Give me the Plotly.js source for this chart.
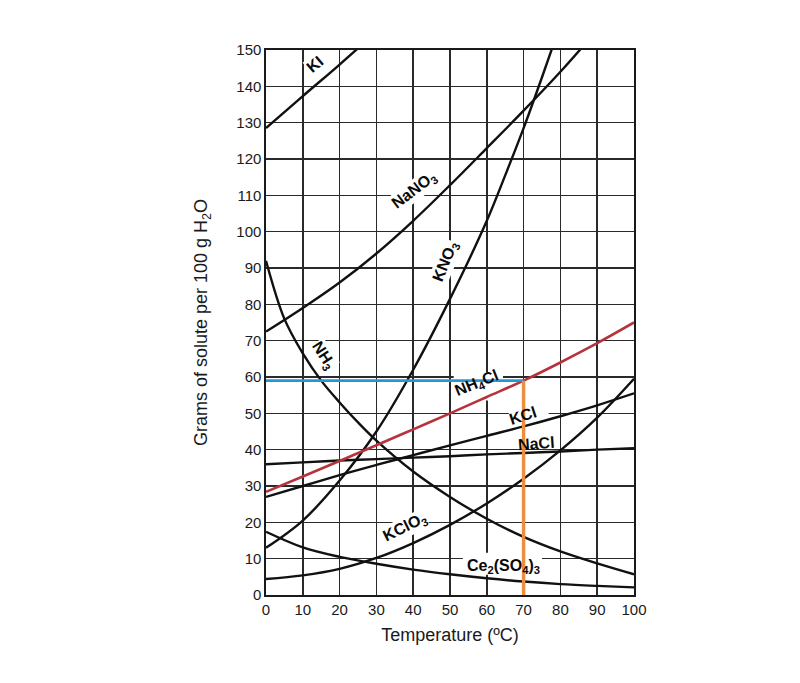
<!DOCTYPE html>
<html>
<head>
<meta charset="utf-8">
<script src="https://cdn.plot.ly/plotly-3.0.1.min.js"></script>
<style>html,body{margin:0;padding:0;background:#fff;}#chart{width:800px;height:683px;}</style>
</head>
<body>
<div id="chart"></div>
<script>
// Temperature (°C) grid shared by most curves
const temps = [0, 10, 20, 30, 40, 50, 60, 70, 80, 90, 100];

// Solubility (g solute per 100 g H2O)
const kiT = [0, 10, 20, 30];
const kiS = [128.5, 137.3, 146, 155];

const nano3T = [0, 10, 20, 30, 40, 50, 60, 70, 80, 90];
const nano3S = [72.5, 79, 86, 94, 103, 112.8, 123, 133.3, 144, 155.5];

const kno3T = [0, 10, 20, 30, 40, 50, 60, 65, 70, 75, 80];
const kno3S = [13, 20.5, 31.5, 45, 62, 81.5, 103, 115.5, 128.5, 142.5, 157];

const nh3T = [0, 5, 10, 15, 20, 25, 30, 40, 50, 60, 70, 80, 90, 100];
const nh3S = [92, 76, 66.5, 59, 53, 47.5, 42.5, 34, 27, 21, 16, 12, 8.7, 5.7];

const nh4clS = [28.4, 32.6, 36.9, 41.2, 45.6, 50, 54.5, 59, 64, 69.3, 75];
const kclS   = [27, 30, 33, 35.8, 38.5, 41.2, 43.8, 46.4, 49.2, 52.2, 55.5];
const naclS  = [36, 36.5, 37, 37.4, 37.8, 38.2, 38.7, 39.1, 39.5, 40, 40.4];
const kclo3S = [4.4, 5.4, 7.2, 10.2, 14.3, 19.3, 25.2, 32, 39.8, 48.8, 59.5];
const ce2S   = [17.4, 13.1, 10.5, 8.6, 7.0, 5.7, 4.6, 3.7, 3.0, 2.5, 2.1];

// Read-off guide: NH4Cl at 70 °C
const guideT = 70;
const guideS = 59;

// Tick labels
const xTicks = [0, 10, 20, 30, 40, 50, 60, 70, 80, 90, 100];
const yTicks = [0, 10, 20, 30, 40, 50, 60, 70, 80, 90, 100, 110, 120, 130, 140, 150];

// Curve labels
const labelText = ['KI', 'NaNO<sub>3</sub>', 'KNO<sub>3</sub>', 'NH<sub>3</sub>', 'NH<sub>4</sub>Cl', 'KCl', 'NaCl', 'KClO<sub>3</sub>', 'Ce<sub>2</sub>(SO<sub>4</sub>)<sub>3</sub>'];

// ---- layout config (positions / styles) ----
const labelPos = [
  [13.2, 146, -40, true],
  [40.3, 111.3, -37, true],
  [48.9, 91.7, -68, true],
  [15.6, 66, 57, true],
  [57.3, 58.3, -22, false],
  [69.9, 49.5, -18, false],
  [73.4, 41.8, -4, false],
  [37.8, 18.6, -26, true],
  [64.5, 7.8, 0, false]
];
// white backing boxes drawn between gridlines and traces [x0,x1,y0,y1]
const backBoxes = [
  [51, 64.4, 53.5, 61.2],
  [66, 76.8, 47.4, 52.8],
  [68, 79.6, 40.3, 44.2],
  [53.5, 75, 5.6, 11.6]
];

const black = {color: '#111', width: 2.4};
function curve(x, y, line) {
  return {x: x, y: y, type: 'scatter', mode: 'lines', line: Object.assign({shape: 'spline', smoothing: 1}, line), hoverinfo: 'skip', showlegend: false};
}

const traces = [
  curve(kiT, kiS, black),
  curve(nano3T, nano3S, black),
  curve(kno3T, kno3S, black),
  curve(nh3T, nh3S, black),
  curve(temps, kclS, black),
  curve(temps, naclS, black),
  curve(temps, kclo3S, black),
  curve(temps, ce2S, black),
  curve(temps, nh4clS, {color: '#b5343c', width: 2.6}),
  {x: [0, guideT], y: [guideS, guideS], type: 'scatter', mode: 'lines', line: {color: '#2597d4', width: 2.8}, hoverinfo: 'skip', showlegend: false},
  {x: [guideT, guideT], y: [0, guideS], type: 'scatter', mode: 'lines', line: {color: '#ef8d3c', width: 3.4}, hoverinfo: 'skip', showlegend: false}
];

const font = 'Arial, "Liberation Sans", Helvetica, sans-serif';

const annotations = labelText.map((t, i) => {
  const p = labelPos[i];
  const a = {x: p[0], y: p[1], xref: 'x', yref: 'y', text: t, showarrow: false, textangle: p[2],
    font: {family: font, size: 16, color: '#0a0a0a', weight: 'bold'}, borderpad: 0};
  if (p[3]) a.bgcolor = '#fff';
  return a;
});

const shapes = backBoxes.map(b => ({type: 'rect', xref: 'x', yref: 'y', x0: b[0], x1: b[1], y0: b[2], y1: b[3],
  fillcolor: '#fff', line: {width: 0}, layer: 'between'}));

const layout = {
  width: 800, height: 683,
  margin: {l: 266, r: 166, t: 50, b: 88},
  paper_bgcolor: '#fff', plot_bgcolor: '#fff',
  font: {family: font, color: '#1a1a1a'},
  xaxis: {
    range: [0, 100], tickvals: xTicks, ticktext: xTicks.map(String),
    showgrid: true, gridcolor: '#2a2a2a', gridwidth: 1.5, zeroline: false,
    showline: true, linecolor: '#1a1a1a', linewidth: 1.6, mirror: true,
    ticks: '', tickfont: {size: 15, color: '#1a1a1a'},
    title: {text: 'Temperature (ºC)', font: {size: 18, color: '#1a1a1a'}, standoff: 12},
    fixedrange: true
  },
  yaxis: {
    range: [0, 150], tickvals: yTicks, ticktext: yTicks.map(String),
    showgrid: true, gridcolor: '#2a2a2a', gridwidth: 1.5, zeroline: false,
    showline: true, linecolor: '#1a1a1a', linewidth: 1.6, mirror: true,
    ticks: '', tickfont: {size: 15, color: '#1a1a1a'},
    title: {text: 'Grams of solute per 100 g H<sub>2</sub>O', font: {size: 18, color: '#1a1a1a'}, standoff: 24},
    fixedrange: true
  },
  annotations: annotations,
  shapes: shapes
};

Plotly.newPlot('chart', traces, layout, {staticPlot: true, displayModeBar: false});
</script>
</body>
</html>
